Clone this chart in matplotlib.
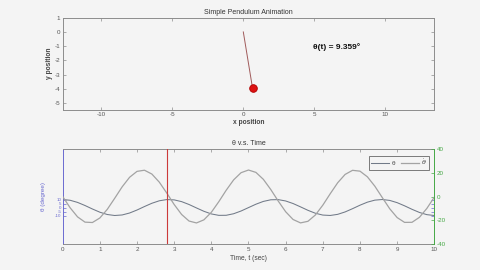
import matplotlib
matplotlib.use("Agg")
import matplotlib.pyplot as plt

plt.rcParams['font.family'] = ['Liberation Sans', 'DejaVu Sans']
plt.rcParams['mathtext.fontset'] = 'dejavusans'
plt.rcParams['axes.unicode_minus'] = False

# ---------------- data ----------------
time_s = [round(0.2 * k, 1) for k in range(51)]
theta_deg = [10.0, 9.05, 6.38, 2.50, -1.85, -5.86, -8.75, -9.98, -9.31, -6.88,
             -3.14, 1.20, 5.30, 8.41, 9.91, 9.53, 7.35, 3.76, -0.54, -4.73,
             -8.03, -9.80, -9.72, -7.78, -4.37, -0.12, 4.13, 7.62, 9.65, 9.85,
             8.18, 4.96, 0.80, -3.52, -7.17, -9.45, -9.94, -8.54, -5.52, -1.46,
             2.89, 6.69, 9.21, 9.99, 8.87, 6.06, 2.11, -2.25, -6.18, -8.93, -10.0]
theta_dot = [0.0, -9.48, -17.16, -21.59, -21.91, -18.08, -10.81, -1.48, 8.14, 16.18,
             21.17, 22.14, 18.91, 12.08, 2.95, -6.74, -15.12, -20.66, -22.27, -19.65,
             -13.30, -4.41, 5.28, 14.00, 20.06, 22.30, 20.31, 14.45, 5.85, -3.83,
             -12.82, -19.37, -22.23, -20.88, -15.55, -7.28, 2.37, 11.58, 18.60, 22.06,
             21.35, 16.57, 8.68, -0.89, -10.30, -17.74, -21.80, -21.73, -17.53, -10.02, -0.58]
current_t = 2.82
current_theta = 9.359
pivot_xy = [0.0, 0.0]
bob_xy = [0.65, -3.95]
x_ticks_top = [-10, -5, 0, 5, 10]
y_ticks_top = [-5, -4, -3, -2, -1, 0, 1]
t_ticks = list(range(11))
theta_ticks = [-10, -5, 0, 5, 10]
dot_ticks = [-40, -20, 0, 20, 40]
legend_labels = ['θ', r'$\dot{\theta}$']

# ---------------- style ----------------
BG = '#f4f4f4'
SPINE = '#8c8c8c'
TXT = '#555555'
BLUE = '#6a6ad0'
GREEN = '#45a845'

fig = plt.figure(figsize=(4.8, 2.7), dpi=100, facecolor=BG)

# ----- top: pendulum -----
ax = fig.add_axes([0.1306, 0.5944, 0.7742, 0.34])
ax.set_facecolor(BG)
ax.set_xlim(-12.72, 13.45)
ax.set_ylim(-5.45, 1.0)
ax.set_xticks(x_ticks_top)
ax.set_yticks(y_ticks_top)
ax.tick_params(direction='in', top=True, right=True, length=2, width=0.5,
               color=SPINE, labelsize=4.5, labelcolor=TXT, pad=2)
for s in ax.spines.values():
    s.set_color(SPINE)
    s.set_linewidth(0.7)
ax.plot([pivot_xy[0], bob_xy[0]], [pivot_xy[1], bob_xy[1]], color='#a05a5a', lw=0.7)
ax.plot([bob_xy[0]], [bob_xy[1]], 'o', ms=5.5, mfc='#dd1111', mec='#b00000', mew=0.6)
ax.text(4.93, -1.05, 'θ(t) = %.3f°' % current_theta, fontsize=6, fontweight='bold',
        va='center', ha='left', color='#111111')
ax.set_title('Simple Pendulum Animation', fontsize=5, color='#333333', pad=3)
ax.set_xlabel('x position', fontsize=4.8, fontweight='bold', color='#444444', labelpad=1)
ax.set_ylabel('y position', fontsize=4.8, fontweight='bold', color='#444444', labelpad=1)

# ----- bottom: time series -----
ax1 = fig.add_axes([0.1306, 0.0963, 0.7742, 0.3518])
ax1.set_facecolor(BG)
ax2 = ax1.twinx()
ax2.patch.set_alpha(0)

ax1.set_xlim(0, 10)
ax1.set_xticks(t_ticks)
ax1.set_ylim(-45.6, 73.1)
ax1.set_yticks(theta_ticks)
ax1.tick_params(axis='x', direction='in', top=True, length=2, width=0.5,
                color=SPINE, labelsize=4.5, labelcolor=TXT, pad=2)
ax1.tick_params(axis='y', direction='in', right=True, length=2, width=0.5,
                color=BLUE, labelsize=3.2, labelcolor=BLUE, pad=1)
for k in ['top', 'bottom']:
    ax1.spines[k].set_color(SPINE)
    ax1.spines[k].set_linewidth(0.7)
ax1.spines['left'].set_color(BLUE)
ax1.spines['left'].set_linewidth(0.7)
ax1.spines['right'].set_visible(False)

ax2.set_ylim(-40, 40)
ax2.set_yticks(dot_ticks)
ax2.tick_params(axis='y', direction='in', length=2, width=0.5, color=GREEN,
                labelsize=4.5, labelcolor=GREEN, pad=2)
for k in ['top', 'bottom', 'left']:
    ax2.spines[k].set_visible(False)
ax2.spines['right'].set_color(GREEN)
ax2.spines['right'].set_linewidth(0.7)

l1, = ax1.plot(time_s, theta_deg, color='#717a88', lw=0.75)
l2, = ax2.plot(time_s, theta_dot, color='#a3a3a3', lw=0.9)
ax2.axvline(current_t, color='#cc3a3a', lw=0.8)

ax1.set_title('θ v.s. Time', fontsize=5, color='#333333', pad=3)
ax1.set_xlabel('Time, t (sec)', fontsize=4.8, color='#444444', labelpad=2)
ax1.set_ylabel('θ (degree)', fontsize=4.5, color=BLUE, labelpad=4)
ax1.yaxis.set_label_coords(-0.045, 0.5)

leg = ax2.legend([l1, l2], legend_labels, ncol=2, loc='upper right',
                 bbox_to_anchor=(0.995, 0.965), fontsize=4.6, handlelength=2.8,
                 columnspacing=0.9, handletextpad=0.4, borderpad=0.35,
                 fancybox=False, framealpha=1, facecolor=BG, edgecolor='#666666')
leg.get_frame().set_linewidth(0.6)
for t in leg.get_texts():
    t.set_color('#444444')

fig.savefig('out.png', dpi=100, facecolor=BG)
